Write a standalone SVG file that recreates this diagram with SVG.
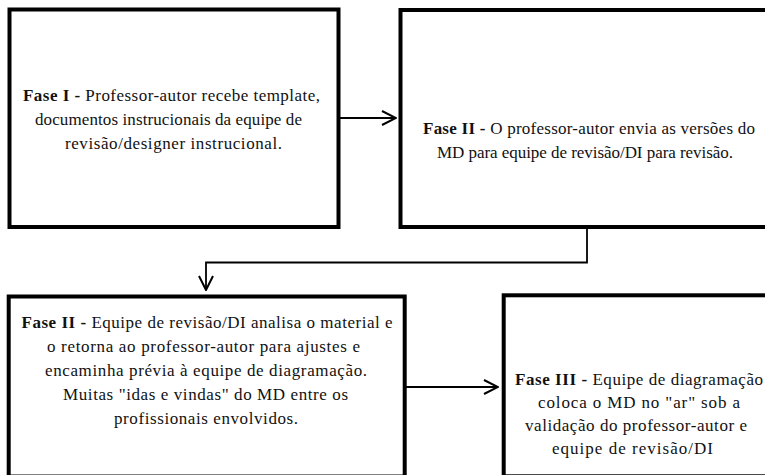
<svg xmlns="http://www.w3.org/2000/svg" width="765" height="475" viewBox="0 0 765 475">
<style>
.box{fill:#fff;stroke:#000;stroke-width:4}
.t{font-family:'Liberation Serif','Times New Roman',serif;font-size:17px;fill:#111;text-anchor:middle}
.b{font-weight:bold}
.c{fill:none;stroke:#000;stroke-width:1.8}
</style>
<defs>
<marker id="ah" viewBox="0 0 16 16" refX="15" refY="8" markerWidth="16" markerHeight="16" markerUnits="userSpaceOnUse" orient="auto">
<path d="M1,1 L15,8 L1,15" fill="none" stroke="#000" stroke-width="2"/>
</marker>
</defs>
<rect width="765" height="475" fill="#fff"/>
<g id="connectors">
<path class="c" d="M339,118 H396" marker-end="url(#ah)"/>
<path class="c" d="M587,227 V262.5 H206 V290" marker-end="url(#ah)"/>
<path class="c" d="M405,387 H498" marker-end="url(#ah)"/>
</g>
<g id="fase1">
<rect class="box" x="9.5" y="9.5" width="329" height="217.5"/>
<text class="t" x="171.5" y="100.5" textLength="297" lengthAdjust="spacing"><tspan class="b">Fase I - </tspan>Professor-autor recebe template,</text>
<text class="t" x="168.5" y="124.5" textLength="267" lengthAdjust="spacing">documentos instrucionais da equipe de</text>
<text class="t" x="173.5" y="148.5" textLength="217" lengthAdjust="spacing">revisão/designer instrucional.</text>
</g>
<g id="fase2a">
<rect class="box" x="400.5" y="10" width="372" height="217"/>
<text class="t" x="589" y="134" textLength="332" lengthAdjust="spacing"><tspan class="b">Fase II - </tspan>O professor-autor envia as versões do</text>
<text class="t" x="585" y="158" textLength="296" lengthAdjust="spacing">MD para equipe de revisão/DI para revisão.</text>
</g>
<g id="fase2b">
<rect class="box" x="8.7" y="296.5" width="396" height="180"/>
<text class="t" x="207" y="328" textLength="371" lengthAdjust="spacing"><tspan class="b">Fase II - </tspan>Equipe de revisão/DI analisa o material e</text>
<text class="t" x="203.5" y="352" textLength="313" lengthAdjust="spacing">o retorna ao professor-autor para ajustes e</text>
<text class="t" x="206" y="376" textLength="322" lengthAdjust="spacing">encaminha prévia à equipe de diagramação.</text>
<text class="t" x="205.5" y="400" textLength="285" lengthAdjust="spacing">Muitas "idas e vindas" do MD entre os</text>
<text class="t" x="206" y="424" textLength="184" lengthAdjust="spacing">profissionais envolvidos.</text>
</g>
<g id="fase3">
<rect class="box" x="503.7" y="295.3" width="270" height="181"/>
<text class="t" x="639" y="385" textLength="248" lengthAdjust="spacing"><tspan class="b">Fase III - </tspan>Equipe de diagramação</text>
<text class="t" x="639" y="408" textLength="202" lengthAdjust="spacing">coloca o MD no "ar" sob a</text>
<text class="t" x="636" y="431" textLength="222" lengthAdjust="spacing">validação do professor-autor e</text>
<text class="t" x="632.5" y="454" textLength="161" lengthAdjust="spacing">equipe de revisão/DI</text>
</g>
</svg>
